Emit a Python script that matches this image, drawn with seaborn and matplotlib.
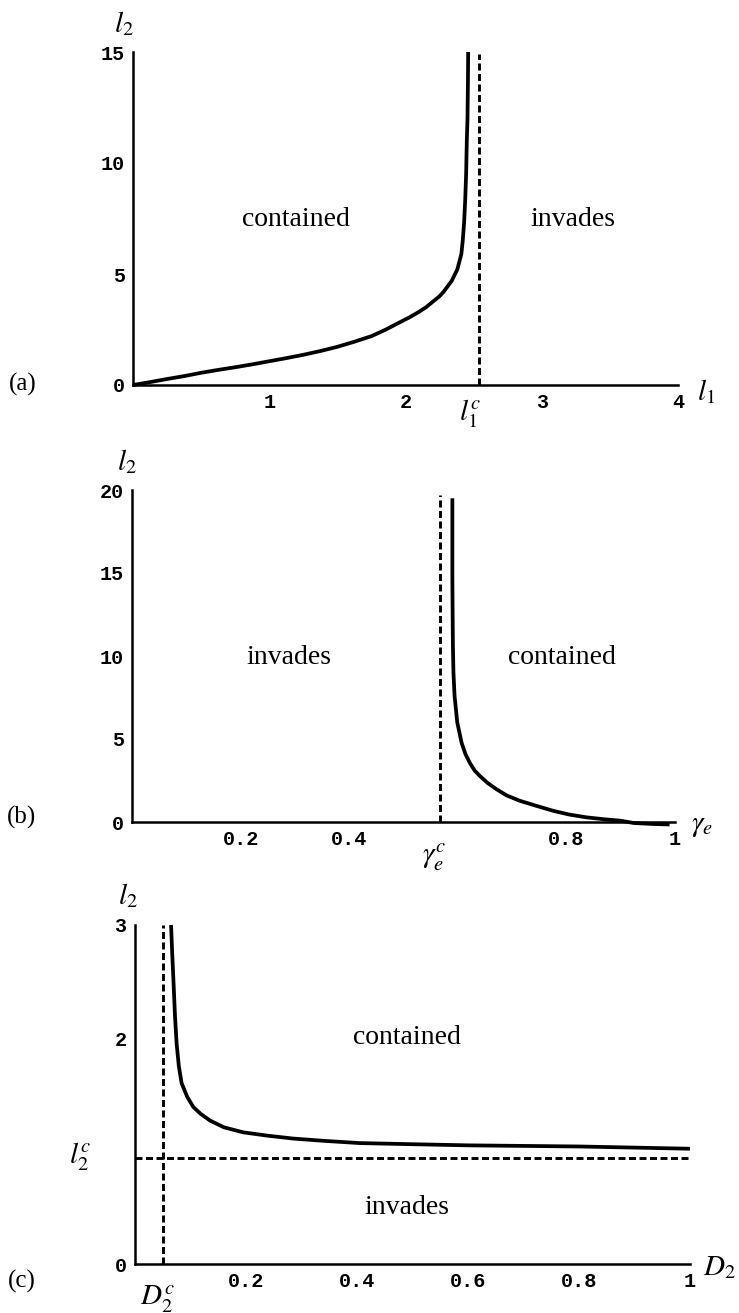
import numpy as np
import pandas as pd
import matplotlib
matplotlib.use("Agg")
import matplotlib.pyplot as plt
import seaborn as sns

# ---------------- data ----------------
# Panel (a): boundary l2 vs l1
a_l1 = [0.0, 0.125, 0.25, 0.375, 0.5, 0.625, 0.75, 0.875, 1.0, 1.125, 1.25, 1.375,
        1.5, 1.625, 1.75, 1.85, 1.95, 2.03, 2.1, 2.15, 2.2, 2.25, 2.28, 2.31, 2.34,
        2.36, 2.38, 2.395, 2.41, 2.42, 2.43, 2.438, 2.445, 2.45, 2.455, 2.458, 2.46]
a_l2 = [0.0, 0.13, 0.27, 0.4, 0.55, 0.68, 0.8, 0.93, 1.07, 1.21, 1.36, 1.53,
        1.72, 1.95, 2.2, 2.48, 2.8, 3.05, 3.3, 3.5, 3.75, 4.0, 4.2, 4.45, 4.7,
        4.95, 5.2, 5.55, 5.9, 6.5, 7.3, 8.3, 9.5, 11.0, 12.0, 13.5, 15.0]
a_l1c = 2.54
a_dash_top = 14.9
a_xticks = [1, 2, 3, 4]
a_yticks = [0, 5, 10, 15]

# Panel (b): boundary l2 vs gamma_e
b_gamma = [0.590, 0.590, 0.5905, 0.591, 0.592, 0.594, 0.599, 0.607, 0.614, 0.622,
           0.631, 0.641, 0.655, 0.671, 0.690, 0.714, 0.742, 0.776, 0.805, 0.837,
           0.868, 0.899, 0.924, 0.960, 0.99]
b_l2 = [19.5, 14.6, 12.5, 10.6, 9.0, 7.6, 6.0, 4.77, 4.1, 3.57,
        3.1, 2.76, 2.35, 1.98, 1.6, 1.28, 1.0, 0.67, 0.45, 0.28,
        0.17, 0.08, -0.06, -0.12, -0.15]
b_gammac = 0.568
b_dash_top = 19.7
b_xticks = [0.2, 0.4, 0.8, 1.0]
b_xticklabels = ["0.2", "0.4", "0.8", "1"]
b_yticks = [0, 5, 10, 15, 20]

# Panel (c): boundary l2 vs D2
c_D2 = [0.065, 0.067, 0.069, 0.072, 0.075, 0.079, 0.084, 0.094, 0.105, 0.118, 0.135,
        0.16, 0.195, 0.24, 0.285, 0.34, 0.405, 0.5, 0.6, 0.7, 0.8, 0.9, 1.0]
c_l2 = [3.0, 2.75, 2.54, 2.2, 1.95, 1.75, 1.60, 1.48, 1.39, 1.33, 1.27,
        1.21, 1.165, 1.135, 1.11, 1.09, 1.07, 1.06, 1.05, 1.045, 1.04, 1.03, 1.02]
c_D2c = 0.051
c_l2c = 0.94
c_xticks = [0.2, 0.4, 0.6, 0.8, 1.0]
c_xticklabels = ["0.2", "0.4", "0.6", "0.8", "1"]
c_yticks = [0, 2, 3]

# ---------------- style ----------------
sns.set_theme(style="white")
plt.rcParams["font.family"] = ["Liberation Serif", "DejaVu Serif"]
plt.rcParams["mathtext.fontset"] = "stix"

W, H = 739, 1313
fig = plt.figure(figsize=(W / 100, H / 100), dpi=100)
fig.patch.set_facecolor("white")

TICKFONT = dict(family=["Liberation Mono", "DejaVu Sans Mono"], weight="bold", size=14.5)
DASH = (0, (2.4, 1.2))


def make_axes(l, r, top, bottom):
    ax = fig.add_axes([l / W, 1 - bottom / H, (r - l) / W, (bottom - top) / H])
    ax.set_facecolor("white")
    for s in ["top", "right"]:
        ax.spines[s].set_visible(False)
    for s in ["left", "bottom"]:
        ax.spines[s].set_color("black")
        ax.spines[s].set_linewidth(1.8)
    ax.tick_params(direction="in", length=4, width=1.3, colors="black", pad=6)
    ax.grid(False)
    return ax


def style_ticks(ax, xt, xtl, yt, ytl):
    ax.set_xticks(xt)
    ax.set_xticklabels(xtl, fontdict=TICKFONT)
    ax.set_yticks(yt)
    ax.set_yticklabels(ytl, fontdict=TICKFONT)
    ax.set_xlabel("")
    ax.set_ylabel("")


def curve(ax, x, y, **kw):
    sns.lineplot(x=x, y=y, ax=ax, sort=False, estimator=None, color="black",
                 legend=False, **kw)
    for ln in ax.get_lines():
        ln.set_clip_on(False)
        ln.set_solid_joinstyle("round")
        ln.set_solid_capstyle("butt")


def ftext(x, y, s, **kw):
    fig.text(x / W, 1 - y / H, s, ha="center", va="center", color="black", **kw)


# ---------------- panel (a) ----------------
axa = make_axes(133, 678, 52, 385)
curve(axa, a_l1, a_l2, linewidth=2.7)
curve(axa, [a_l1c, a_l1c], [0, a_dash_top], linewidth=2.1, linestyle=DASH)
axa.set_xlim(0, 4)
axa.set_ylim(0, 15)
style_ticks(axa, a_xticks, [str(v) for v in a_xticks], a_yticks, [str(v) for v in a_yticks])

ftext(124, 24, r"$l_2$", fontsize=21)
ftext(706, 392, r"$l_1$", fontsize=21)
ftext(470, 414, r"$l_1^c$", fontsize=21)
ftext(23, 384, "(a)", fontsize=18)
ftext(296, 219, "contained", fontsize=20)
ftext(573, 220, "invades", fontsize=20)

# ---------------- panel (b) ----------------
axb = make_axes(132, 675, 490, 822)
curve(axb, b_gamma, b_l2, linewidth=2.7)
curve(axb, [b_gammac, b_gammac], [0, b_dash_top], linewidth=2.1, linestyle=DASH)
axb.set_xlim(0, 1)
axb.set_ylim(0, 20)
style_ticks(axb, b_xticks, b_xticklabels, b_yticks, [str(v) for v in b_yticks])

ftext(127, 462, r"$l_2$", fontsize=21)
ftext(702, 826, r"$\gamma_e$", fontsize=21)
ftext(434, 857, r"$\gamma_e^c$", fontsize=21)
ftext(22, 817, "(b)", fontsize=18)
ftext(289, 657, "invades", fontsize=20)
ftext(562, 658, "contained", fontsize=20)

# ---------------- panel (c) ----------------
axc = make_axes(135, 690, 925, 1264)
curve(axc, c_D2, c_l2, linewidth=2.7)
curve(axc, [c_D2c, c_D2c], [0, 3.0], linewidth=2.1, linestyle=DASH)
curve(axc, [0, 1.0], [c_l2c, c_l2c], linewidth=2.1, linestyle=DASH)
axc.set_xlim(0, 1)
axc.set_ylim(0, 3)
style_ticks(axc, c_xticks, c_xticklabels, c_yticks, [str(v) for v in c_yticks])

ftext(128, 896, r"$l_2$", fontsize=21)
ftext(80, 1157, r"$l_2^c$", fontsize=21)
ftext(719, 1268, r"$D_2$", fontsize=21)
ftext(157, 1299, r"$D_2^c$", fontsize=21)
ftext(22, 1281, "(c)", fontsize=18)
ftext(407, 1038, "contained", fontsize=20)
ftext(407, 1208, "invades", fontsize=20)

fig.savefig("out.png", dpi=100, facecolor="white")
